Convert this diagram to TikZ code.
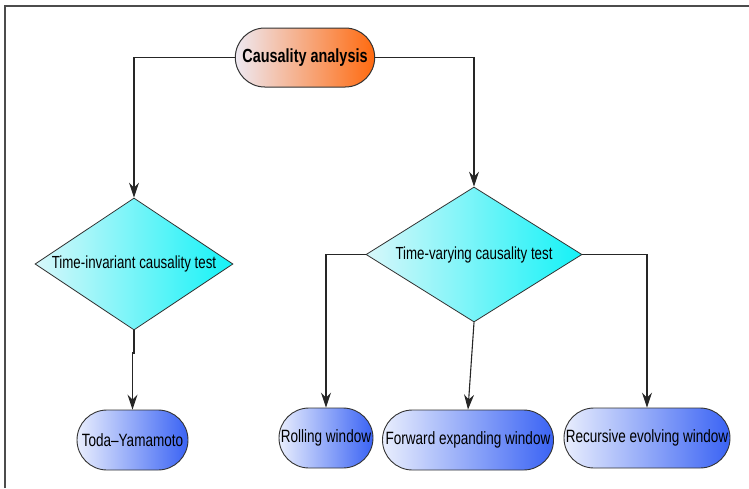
\documentclass[tikz,border=0pt]{standalone}
\usepackage{fontspec}
\setmainfont{Liberation Sans}[FakeStretch=0.76]
\usetikzlibrary{shapes.geometric,shapes.misc,arrows.meta}

\definecolor{orangeEnd}{HTML}{FF6A0F}
\definecolor{paleStart}{HTML}{EEE9F2}
\definecolor{cyanEnd}{HTML}{14F2F7}
\definecolor{cyanStart}{HTML}{D8F7FA}
\definecolor{blueEnd}{HTML}{3A63F4}
\definecolor{blueStart}{HTML}{E9EEFD}

\begin{document}
\begin{tikzpicture}[x=10pt, y=-10pt]
  % Styling
  \tikzset{
    topBox/.style={
      rounded rectangle,
      minimum width=146pt,
      minimum height=59pt,
      left color=paleStart,
      right color=orangeEnd,
      draw=black!80,
      line width=1pt,
      font=\fontsize{19}{21}\selectfont\bfseries
    },
    testBox/.style={
      diamond,
      aspect=1.5,
      inner sep=0pt,
      left color=cyanStart,
      right color=cyanEnd,
      draw=black!80,
      line width=0.8pt,
      font=\fontsize{17.5}{19}\selectfont
    },
    methodBox/.style={
      rounded rectangle,
      minimum height=60pt,
      inner sep=2pt,
      left color=blueStart,
      right color=blueEnd,
      draw=black!80,
      line width=0.9pt,
      font=\fontsize{17.8}{19}\selectfont
    },
    arrow/.style={
      -{Stealth[length=15pt,width=10pt,inset=5pt]},
      line width=1.1pt,
      black!85
    }
  }

  \useasboundingbox (0,0) rectangle (74.9,48.8);

  % ===== Frame =====
  \draw[black!70, line width=1.5pt] (0.5,48.8) -- (0.5,0.6) -- (74.9,0.6);

  % ===== Top node =====
  \node[topBox] (cause) at (30.5, 5.75) {Causality analysis};

  % ===== Tests =====
  \node[testBox, minimum width=198pt, minimum height=132pt] (tinv) at (13.4, 26.4) {Time-invariant causality test};
  \node[testBox, minimum width=216pt, minimum height=135pt] (tvar) at (47.4, 25.45) {Time-varying causality test};

  % ===== Methods =====
  \node[methodBox, minimum width=115pt] (toda) at (13.25, 44.0) {Toda--Yamamoto};
  \node[methodBox, minimum width=98pt] (roll) at (32.6, 43.8) {Rolling window};
  \node[methodBox, minimum width=170pt] (fwd) at (46.8, 44.0) {Forward expanding window};
  \node[methodBox, minimum width=170pt] (recur) at (64.7, 43.8) {Recursive evolving window};

  % ===== Connectors =====
  \draw[arrow] (cause.west) -| (tinv.north);
  \draw[arrow] (cause.east) -| (tvar.north);
  \coordinate (jog) at (13.4, 35.3);
  \draw[arrow] (tinv.south) -- (jog) -| (toda.north);
  \draw[arrow] (tvar.west) -| (roll.north);
  \draw[arrow] (tvar.south) -- (fwd.north);
  \draw[arrow] (tvar.east) -| (recur.north);

\end{tikzpicture}
\end{document}
